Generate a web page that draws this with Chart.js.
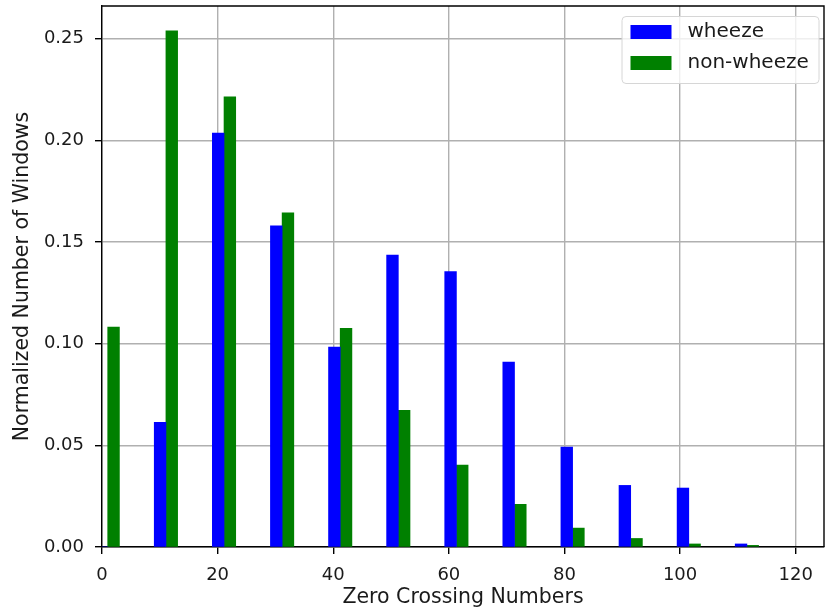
<!DOCTYPE html>
<html>
<head>
<meta charset="utf-8">
<script src="https://cdn.jsdelivr.net/npm/chart.js@4.4.1/dist/chart.umd.min.js"></script>
<style>
  html, body { margin: 0; padding: 0; background: #ffffff; }
  #wrap { width: 825px; height: 612px; }
</style>
</head>
<body>
<div id="wrap"><canvas id="c" width="825" height="612"></canvas></div>
<script>
// Histogram bin positions (centre of each bar on the zero-crossing axis)
const wheezeBins    = [0.0, 10.05, 20.1, 30.15, 40.2, 50.25, 60.3, 70.35, 80.4, 90.45, 100.5, 110.55];
const nonWheezeBins = [2.0, 12.07, 22.12, 32.17, 42.22, 52.27, 62.32, 72.37, 82.42, 92.47, 102.52, 112.57];

// Normalized number of windows in each bin
const wheezeValues    = [0.0, 0.0613, 0.2036, 0.1580, 0.0983, 0.1436, 0.1355, 0.0910, 0.0492, 0.0303, 0.0290, 0.0015];
const nonWheezeValues = [0.1082, 0.2539, 0.2214, 0.1644, 0.1075, 0.0672, 0.0403, 0.0210, 0.0093, 0.0042, 0.0015, 0.0008];

const seriesNames = ['wheeze', 'non-wheeze'];
const seriesColors = ['#0000ff', '#008000'];

const xTicks = [0, 20, 40, 60, 80, 100, 120];
const yTicks = [0.00, 0.05, 0.10, 0.15, 0.20, 0.25];

const FONT = 'DejaVu Sans';
const TICK_PX = 18;
const LABEL_PX = 20.5;
const LEGEND_PX = 20;

const toPoints = (xs, ys) => xs.map((x, i) => ({ x: x, y: ys[i] }));

// Top and right spines
const framePlugin = {
  id: 'frame',
  afterDraw(chart) {
    const { ctx, chartArea: a } = chart;
    ctx.save();
    ctx.strokeStyle = '#000000';
    ctx.lineWidth = 1.4;
    ctx.beginPath();
    ctx.moveTo(a.left, a.top);
    ctx.lineTo(a.right, a.top);
    ctx.lineTo(a.right, a.bottom);
    ctx.stroke();
    ctx.restore();
  }
};

// Legend box drawn inside the upper-right corner of the plot area
const insideLegend = {
  id: 'insideLegend',
  afterDraw(chart) {
    const { ctx, chartArea: a } = chart;
    const sets = chart.data.datasets;
    const w = 197, h = 67;
    const x0 = a.right - 5 - w, y0 = a.top + 10.5;
    ctx.save();
    ctx.beginPath();
    ctx.roundRect(x0, y0, w, h, 4);
    ctx.fillStyle = 'rgba(255,255,255,0.8)';
    ctx.fill();
    ctx.strokeStyle = '#d6d6d6';
    ctx.lineWidth = 1;
    ctx.stroke();
    ctx.font = LEGEND_PX + 'px "' + FONT + '"';
    ctx.textBaseline = 'middle';
    ctx.textAlign = 'left';
    sets.forEach((ds, i) => {
      const cy = y0 + 15.5 + i * 31;
      ctx.fillStyle = ds.backgroundColor;
      ctx.fillRect(x0 + 8.5, cy - 7, 41, 14);
      ctx.fillStyle = '#1a1a1a';
      ctx.fillText(ds.label, x0 + 65.5, cy);
    });
    ctx.restore();
  }
};

new Chart(document.getElementById('c'), {
  type: 'bar',
  data: {
    datasets: [
      { label: seriesNames[0], data: toPoints(wheezeBins, wheezeValues), backgroundColor: seriesColors[0] },
      { label: seriesNames[1], data: toPoints(nonWheezeBins, nonWheezeValues), backgroundColor: seriesColors[1] }
    ]
  },
  options: {
    responsive: false,
    animation: false,
    devicePixelRatio: 1,
    layout: { autoPadding: false, padding: { left: 0, top: 6, right: 1, bottom: 0 } },
    datasets: { bar: { grouped: false, barThickness: 11.7, borderWidth: 0 } },
    plugins: { legend: { display: false }, tooltip: { enabled: false } },
    scales: {
      x: {
        type: 'linear',
        min: 0,
        max: 124.9,
        offset: false,
        z: 1,
        afterBuildTicks: s => { s.ticks = xTicks.map(v => ({ value: v })); },
        afterFit: s => { s.height = 65; s.paddingLeft = 0; s.paddingRight = 0; s.paddingTop = 0; s.paddingBottom = 0; },
        ticks: {
          autoSkip: false, maxRotation: 0, padding: 11,
          color: '#1a1a1a',
          font: { family: FONT, size: TICK_PX },
          callback: v => String(v)
        },
        grid: { offset: false, color: '#b0b0b0', lineWidth: 1.4, tickLength: 7, tickColor: '#000000', tickWidth: 1.4 },
        border: { display: true, color: '#000000', width: 1.4 },
        title: {
          display: true, text: 'Zero Crossing Numbers', color: '#1a1a1a',
          font: { family: FONT, size: LABEL_PX }, padding: { top: 0, bottom: 2 }
        }
      },
      y: {
        type: 'linear',
        min: 0,
        max: 0.2661,
        z: 1,
        afterBuildTicks: s => { s.ticks = yTicks.map(v => ({ value: v })); },
        afterFit: s => { s.width = 102; s.paddingLeft = 0; s.paddingRight = 0; s.paddingTop = 0; s.paddingBottom = 0; },
        ticks: {
          autoSkip: false, padding: 11,
          color: '#1a1a1a',
          font: { family: FONT, size: TICK_PX },
          callback: v => Number(v).toFixed(2)
        },
        grid: { offset: false, color: '#b0b0b0', lineWidth: 1.4, tickLength: 7, tickColor: '#000000', tickWidth: 1.4 },
        border: { display: true, color: '#000000', width: 1.4 },
        title: {
          display: true, text: 'Normalized Number of Windows', color: '#1a1a1a',
          font: { family: FONT, size: LABEL_PX }, padding: { top: 10, bottom: 0 }
        }
      }
    }
  },
  plugins: [framePlugin, insideLegend]
});
</script>
</body>
</html>
